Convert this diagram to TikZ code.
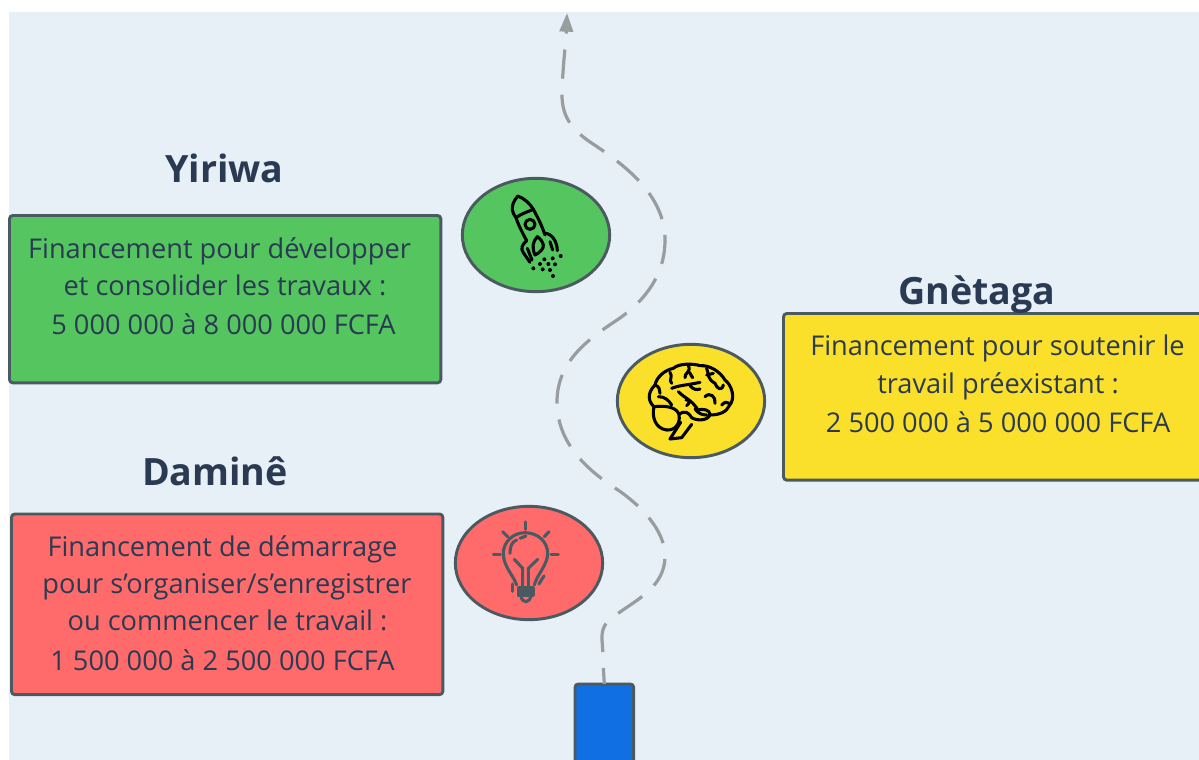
\documentclass[tikz,border=0pt]{standalone}
\usepackage{fontspec}
\setmainfont{Open Sans}
\usetikzlibrary{arrows.meta,shapes.geometric}
\definecolor{bgc}{HTML}{E7F0F6}
\definecolor{edgec}{HTML}{4A5A60}
\definecolor{inkc}{HTML}{2A3A52}
\definecolor{greenc}{HTML}{55C560}
\definecolor{yellowc}{HTML}{FBE02B}
\definecolor{redc}{HTML}{FF6B6B}
\definecolor{bluec}{HTML}{0F6FE3}
\definecolor{pathc}{HTML}{989DA0}
\tikzset{
  cardbox/.style={draw=edgec,line width=2.2pt,rounded corners=2.5pt,anchor=north west,inner sep=0pt,outer sep=0pt},
  oval/.style={ellipse,draw=edgec,line width=2.2pt,minimum width=110.5pt,minimum height=85pt,inner sep=0pt},
  bodytext/.style={text=inkc,font=\fontsize{20.4}{24}\selectfont,anchor=base,inner sep=0pt},
  titletext/.style={text=inkc,font=\fontsize{28.2}{32}\selectfont\bfseries,anchor=base,inner sep=0pt},
  icon/.style={line width=2.3pt,line cap=round,line join=round},
  pathline/.style={draw=pathc,line width=2.4pt,dash pattern=on 22pt off 12pt,dash phase=10pt,-{Triangle[length=14pt,width=10pt,fill=pathc]}}
}
\begin{document}
\begin{tikzpicture}[x=0.75pt,y=-0.75pt]
\useasboundingbox (0,0) rectangle (1199,760);
\begin{scope}
\clip (0,0) rectangle (1199,760);
\fill[white] (0,0) rectangle (1199,760);
\fill[bgc] (9,12) rectangle (1199,760);

\coordinate (pathend) at (567,13);
\node[cardbox,fill=bluec,minimum width=44pt,minimum height=90pt] (launch) at (575,684) {};
\draw[pathline] (launch.north) .. controls (603,665) and (603,650) .. (602,640)
  .. controls (601,622) and (612,618) .. (620,612)
  .. controls (640,598) and (665,585) .. (665,556)
  .. controls (665,530) and (640,505) .. (618,490)
  .. controls (590,472) and (557,445) .. (557,402)
  .. controls (557,360) and (590,338) .. (620,318)
  .. controls (645,300) and (665,275) .. (665,240)
  .. controls (665,195) and (625,165) .. (590,142)
  .. controls (570,128) and (561,115) .. (562,90)
  .. controls (563,65) and (566,40) .. (pathend);

\node[cardbox,fill=greenc,minimum width=323.5pt,minimum height=125.5pt] (greenbox) at (9.5,215.5) {};
\node[cardbox,fill=yellowc,minimum width=340pt,minimum height=125pt] (yellowbox) at (783.5,313.5) {};
\node[cardbox,fill=redc,minimum width=323.5pt,minimum height=135.5pt] (redbox) at (11.5,514) {};

\node[oval,fill=greenc] (greenoval) at (536,235) {};
\node[oval,fill=yellowc] (yellowoval) at (691,401) {};
\node[oval,fill=redc] (redoval) at (529,563) {};

\node[titletext] (t1) at (224.5,182) {Yiriwa};
\node[titletext] (t2) at (977,304) {Gnètaga};
\node[titletext] (t3) at (215,485) {Daminê};

\node[bodytext] (g1) at (219.5,258) {Financement pour développer};
\node[bodytext] (g2) at (225,295) {et consolider les travaux :};
\node[bodytext] (g3) at (223.5,334) {5 000 000 à 8 000 000 FCFA};
\node[bodytext] (y1) at (997.5,355) {Financement pour soutenir le};
\node[bodytext] (y2) at (998,393) {travail préexistant :};
\node[bodytext] (y3) at (998,432) {2 500 000 à 5 000 000 FCFA};
\node[bodytext] (r1) at (222.5,556) {Financement de démarrage};
\node[bodytext] (r2) at (227,593) {pour s’organiser/s’enregistrer};
\node[bodytext] (r3) at (227.5,630) {ou commencer le travail :};
\node[bodytext] (r4) at (222.5,670) {1 500 000 à 2 500 000 FCFA};

% rocket
\begin{scope}[shift={(450,170)},x=0.25pt,y=-0.25pt,icon,draw=black]
\draw (203,78) .. controls (190,95) and (186,105) .. (187,120) .. controls (188,130) and (193,135) .. (198,143) .. controls (215,130) and (235,125) .. (250,118) .. controls (240,100) and (222,85) .. (203,78) -- cycle;
\draw (198,143) .. controls (205,165) and (218,190) .. (230,212);
\draw (250,118) .. controls (262,140) and (275,165) .. (285,195);
\draw (240,163) circle[radius=15];
\draw (230,212) .. controls (218,222) and (210,235) .. (220,248) -- (240,277);
\draw (285,190) .. controls (305,190) and (322,215) .. (322,242);
\draw (262,200) .. controls (248,215) and (245,232) .. (255,255) .. controls (270,248) and (282,235) .. (280,225) .. controls (278,215) and (270,205) .. (262,200) -- cycle;
\draw (232,235) -- (246,270);
\draw (300,215) -- (308,240);
\foreach \p in {(250,295),(270,282),(278,298),(295,282),(300,300),(315,283),(308,265),(332,258),(309,318),(283,268)}
  \fill[black] \p circle[radius=6];
\end{scope}

% brain
\begin{scope}[shift={(610,335)},x=0.25pt,y=-0.25pt,icon,draw=black]
\draw (132,215) .. controls (115,200) and (110,175) .. (135,150) .. controls (140,125) and (165,105) .. (190,100) .. controls (205,85) and (250,85) .. (270,92) .. controls (300,90) and (330,110) .. (345,135) .. controls (365,150) and (378,190) .. (358,212) .. controls (350,232) and (325,240) .. (300,240);
\draw (132,215) .. controls (125,245) and (135,280) .. (170,285) .. controls (195,287) and (212,265) .. (207,240) .. controls (203,220) and (175,210) .. (132,215);
\draw (212,262) -- (180,312) -- (215,308) -- (245,268);
\draw (207,238) .. controls (225,225) and (235,232) .. (245,248) .. controls (260,258) and (295,258) .. (300,238) .. controls (300,225) and (280,220) .. (262,225);
\draw (205,170) .. controls (225,190) and (245,195) .. (262,222);
\draw (185,160) .. controls (210,150) and (235,150) .. (270,142);
\draw (240,152) .. controls (250,165) and (262,165) .. (270,162);
\draw (180,112) .. controls (190,125) and (175,135) .. (185,145);
\draw (235,92) .. controls (245,110) and (222,115) .. (225,128);
\draw (238,112) .. controls (245,122) and (245,125) .. (248,128);
\draw (290,100) .. controls (298,120) and (290,130) .. (315,145) .. controls (320,160) and (335,170) .. (340,150);
\draw (290,120) -- (310,115);
\draw (135,150) .. controls (150,155) and (148,165) .. (150,175);
\draw (145,185) .. controls (165,185) and (175,195) .. (185,210);
\draw (228,195) .. controls (240,190) and (240,205) .. (230,212);
\draw (285,185) .. controls (300,170) and (318,185) .. (315,205);
\draw (335,210) .. controls (345,200) and (350,200) .. (358,205);
\draw (255,222) .. controls (265,235) and (275,240) .. (290,240);
\end{scope}

% bulb
\begin{scope}[shift={(445,500)},x=0.25pt,y=-0.25pt,icon,draw=edgec]
\draw (215,255) .. controls (205,225) and (175,200) .. (175,160) .. controls (175,125) and (205,98) .. (240,98) .. controls (278,98) and (308,125) .. (308,160) .. controls (308,195) and (275,225) .. (268,255);
\draw (195,160) .. controls (195,140) and (200,125) .. (215,120);
\draw (225,115) -- (243,108);
\draw (208,178) -- (233,205) -- (233,262);
\draw (278,178) -- (250,205) -- (250,262);
\draw (220,262) -- (265,262) -- (265,285) -- (220,285) -- cycle;
\draw (222,273) -- (264,273);
\draw (228,285) .. controls (228,312) and (257,312) .. (257,285);
\draw (203,252) -- (203,274);
\draw (282,252) .. controls (288,245) and (290,235) .. (297,228);
\draw (242,66) -- (242,88);
\draw (173,95) -- (188,110);
\draw (312,95) -- (298,110);
\draw (145,163) -- (166,163);
\draw (318,163) -- (340,163);
\end{scope}
\end{scope}
\end{tikzpicture}
\end{document}
